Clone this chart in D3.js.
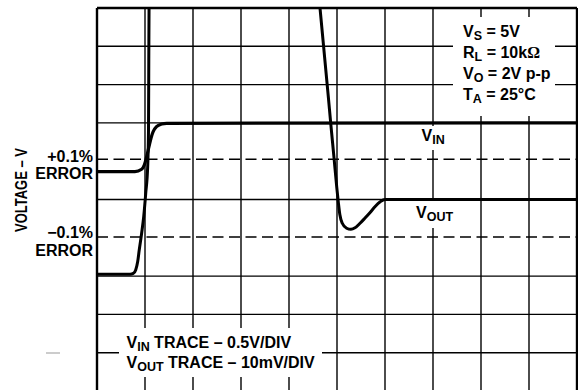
<!DOCTYPE html>
<html>
<head>
<meta charset="utf-8">
<script src="https://cdn.jsdelivr.net/npm/d3@7"></script>
<style>
  html, body { margin: 0; padding: 0; background: #fff; }
  svg { display: block; }
  text { font-family: "Liberation Sans", Arial, Helvetica, sans-serif; font-weight: bold; fill: #000; }
</style>
</head>
<body>
<svg id="chart" width="578" height="390"></svg>
<script>
// Time axis in divisions (10 horizontal), screen position in divisions (10 vertical)
const xDivs = [0, 1, 2, 3, 4, 5, 6, 7, 8, 9, 10];
const yGridDivs = [1, 2, 3, 5, 7, 8, 9, 10];    // solid graticule lines
const errorBands = [6.05, 4.02];                // ±0.1% error limits (dashed)
const errorLabels = [["+0.1%", "ERROR"], ["\u22120.1%", "ERROR"]];

// Input step (0.5V/DIV)
const vinT = [0, 0.79, 0.93, 0.985, 1.035, 1.083, 1.125, 1.17, 1.24, 1.35, 1.45, 10];
const vinV = [5.73, 5.73, 5.79, 5.90, 6.12, 6.38, 6.60, 6.77, 6.90, 6.97, 6.99, 7.0];

// Output settling (10mV/DIV) — swings off-screen during the slew
const voutT = [0, 0.69, 0.756, 0.806, 0.848, 0.88, 0.93, 0.973, 1.015, 1.056, 1.073, 1.079, 1.0875, 1.1,
               4.6, 4.61, 4.646, 4.825, 4.869, 4.94, 4.994, 5.03, 5.06, 5.11, 5.20, 5.29, 5.375, 5.48,
               5.58, 5.69, 5.79, 5.90, 6.0, 6.10, 10];
const voutV = [3.05, 3.05, 3.07, 3.16, 3.38, 3.68, 4.12, 4.55, 5.16, 5.86, 6.81, 8.64, 10.73, 11.5,
               11.5, 10.47, 10.0, 7.6, 6.995, 6.06, 5.33, 4.90, 4.60, 4.38, 4.25, 4.22, 4.26, 4.38,
               4.51, 4.66, 4.81, 4.94, 5.0, 5.0, 5.0];

const conditions = [["V", "S", " = 5V"], ["R", "L", " = 10k", "\u03A9"], ["V", "O", " = 2V p-p"], ["T", "A", " = 25\u00B0C"]];
const traceNotes = [["V", "IN", " TRACE \u2013 0.5V/DIV"], ["V", "OUT", " TRACE \u2013 10mV/DIV"]];
const yTitle = "VOLTAGE \u2013 V";

const svg = d3.select("#chart");
const x = d3.scaleLinear().domain([0, 10]).range([97, 577]);
const y = d3.scaleLinear().domain([0, 10]).range([391, 8]);

// Graticule
const grid = svg.append("g");
grid.selectAll("line.v").data(xDivs).join("line")
  .attr("x1", d => x(d)).attr("x2", d => x(d))
  .attr("y1", y(10)).attr("y2", y(0))
  .attr("stroke", "#000")
  .attr("stroke-width", d => (d === 0 || d === 10) ? 2.4 : 1.4);
grid.selectAll("line.h").data(yGridDivs).join("line")
  .attr("x1", x(0)).attr("x2", x(10))
  .attr("y1", d => y(d)).attr("y2", d => y(d))
  .attr("stroke", "#000")
  .attr("stroke-width", d => d === 10 ? 2.4 : 1.4);

// Error band limits
grid.selectAll("line.err").data(errorBands).join("line")
  .attr("x1", x(0)).attr("x2", x(10))
  .attr("y1", d => y(d)).attr("y2", d => y(d))
  .attr("stroke", "#000").attr("stroke-width", 1.6)
  .attr("stroke-dasharray", "11,5.5");

// Clear the graticule behind the annotations
const masks = [
  [453, 17, 102, 99],
  [119, 328, 203, 49],
  [418, 126, 31, 24],
  [412, 201, 44, 27]
];
svg.append("g").selectAll("rect").data(masks).join("rect")
  .attr("x", d => d[0]).attr("y", d => d[1])
  .attr("width", d => d[2]).attr("height", d => d[3])
  .attr("fill", "#fff");

// Traces, clipped to the screen
svg.append("clipPath").attr("id", "screen")
  .append("rect").attr("x", x(0)).attr("y", y(10))
  .attr("width", x(10) - x(0)).attr("height", y(0) - y(10));

const line = d3.line().x(d => x(d[0])).y(d => y(d[1])).curve(d3.curveMonotoneX);
const traces = svg.append("g").attr("clip-path", "url(#screen)");
traces.append("path").datum(d3.zip(vinT, vinV))
  .attr("d", line).attr("fill", "none").attr("stroke", "#000")
  .attr("stroke-width", 3.2).attr("stroke-linejoin", "round");
traces.append("path").datum(d3.zip(voutT, voutV))
  .attr("d", line).attr("fill", "none").attr("stroke", "#000")
  .attr("stroke-width", 3).attr("stroke-linejoin", "round");

// Text helper: main text with a subscript part
function subText(g, parts, px, py, size, subSize) {
  const t = g.append("text").attr("x", px).attr("y", py).style("font-size", size + "px");
  t.append("tspan").text(parts[0]);
  t.append("tspan").attr("dy", 3).style("font-size", subSize + "px").text(parts[1]);
  t.append("tspan").attr("dy", -3).text(parts[2]);
  if (parts[3]) t.append("tspan").style("font-family", "'Liberation Serif', 'Times New Roman', serif").text(parts[3]);
  return t;
}

const ann = svg.append("g");
conditions.forEach((c, i) => subText(ann, c, 463, 36.5 + i * 21, 16, 12.5));
traceNotes.forEach((c, i) => subText(ann, c, 126.5, 347.5 + i * 20, 16, 12.5));
subText(ann, ["V", "IN", ""], 421.5, 141, 16, 12.5);
subText(ann, ["V", "OUT", ""], 416, 218, 16, 12.5);

// Error labels at the left
const errY = [[161.5, 178.5], [238, 256]];
errorLabels.forEach((pair, i) => {
  pair.forEach((s, j) => {
    ann.append("text").attr("x", 93).attr("y", errY[i][j])
      .attr("text-anchor", "end").style("font-size", "16px").text(s);
  });
});

// Axis title
ann.append("text")
  .attr("transform", "translate(26.5,190) rotate(-90)")
  .attr("text-anchor", "middle")
  .attr("textLength", 84).attr("lengthAdjust", "spacingAndGlyphs")
  .style("font-size", "16px").text(yTitle);

// Small stray tick outside the left edge
svg.append("line").attr("x1", 46).attr("x2", 60).attr("y1", 353).attr("y2", 353)
  .attr("stroke", "#999").attr("stroke-width", 1);
</script>
</body>
</html>
